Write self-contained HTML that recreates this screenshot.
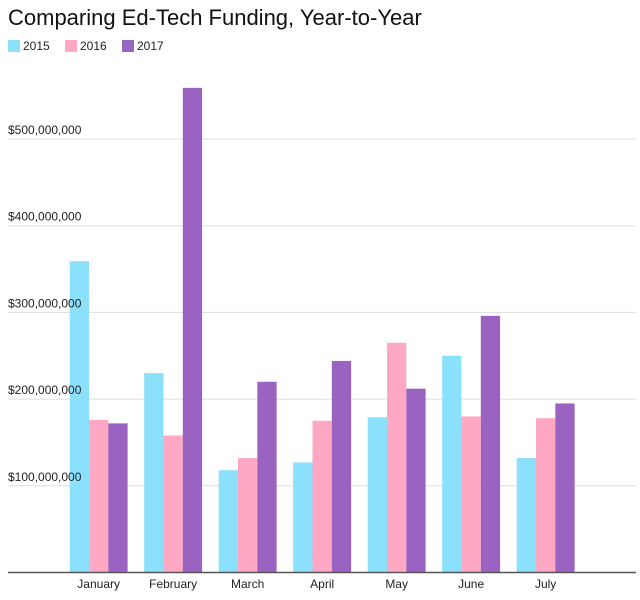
<!DOCTYPE html>
<html><head><meta charset="utf-8"><style>
body{margin:0;background:#fff;font-family:"Liberation Sans",Arial,sans-serif;}
svg{display:block}
</style></head><body>
<svg width="640" height="600" id="chart">
<text x="8" y="25" font-size="22" fill="#111">Comparing Ed-Tech Funding, Year-to-Year</text>
<g id="legend"></g>
<g id="grid"></g><g id="bars"></g><g id="xlabels"></g><g id="ylabels"></g>
</svg>
<script>
const months=["January","February","March","April","May","June","July"];
const years=["2015","2016","2017"];
const v2015=[359,230,118,127,179,250,132];
const v2016=[176,158,132,175,265,180,178];
const v2017=[172,559,220,244,212,296,195];
const yTicks=[100,200,300,400,500];
const colors=["#8be0fc","#fea8c3","#9b63c1"];
const NS="http://www.w3.org/2000/svg";
const base=572.5, pxPer=0.867;
const y=v=>base-v*pxPer;
const x0=69.7, step=74.5, bw=19.3;
function mk(tag,attrs,parent){const e=document.createElementNS(NS,tag);for(const k in attrs)e.setAttribute(k,attrs[k]);parent.appendChild(e);return e;}
const grid=document.getElementById('grid');
const ylab=document.getElementById('ylabels');
yTicks.forEach(t=>{
 const l=mk('line',{x1:8,x2:636,y1:y(t),y2:y(t),stroke:'#ddd','stroke-width':1},grid);
 
 
 const tx=mk('text',{x:8,y:y(t)-5,'font-size':12,fill:'#222'},ylab);
 tx.textContent='$'+(t*1000000).toLocaleString('en-US');
 
 
});
const series=[v2015,v2016,v2017];
const bars=document.getElementById('bars');
months.forEach((m,i)=>{
 series.forEach((s,j)=>{
  const r=mk('rect',{x:x0+i*step+j*bw,y:y(s[i]),width:bw,height:s[i]*pxPer,fill:colors[j]},bars);
  
  
 });
 const t=mk('text',{x:x0+i*step+1.5*bw,y:588,'font-size':12,fill:'#222','text-anchor':'middle'},document.getElementById('xlabels'));
 t.textContent=m;
 
 
});
const ax=mk('line',{x1:8,x2:636,y1:base,y2:base,stroke:'#555','stroke-width':1.5},bars);


const lg=document.getElementById('legend');
const lx=[8,65,122];
years.forEach((yr,j)=>{
 const r=mk('rect',{x:lx[j],y:40,width:12,height:12,fill:colors[j]},lg);
 
 
 const t=mk('text',{x:lx[j]+15,y:50,'font-size':12,fill:'#222'},lg);
 t.textContent=yr;
 
 
});
</script>
</body></html>
